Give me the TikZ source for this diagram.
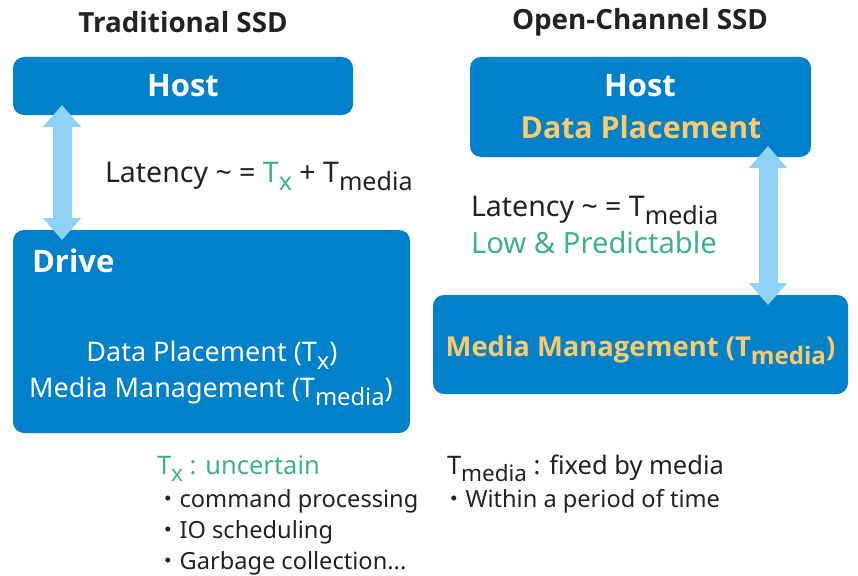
\documentclass[tikz,border=0pt]{standalone}
\usepackage{fontspec}
\setmainfont{Noto Sans}
\newfontfamily\heavy{Open Sans}
\newfontfamily\cjk{Noto Sans CJK JP}
\usetikzlibrary{arrows.meta}

\definecolor{boxblue}{HTML}{0081C9}
\definecolor{arrowblue}{HTML}{8ED3F5}
\definecolor{gold}{HTML}{FCC96B}
\definecolor{teal}{HTML}{3DB08E}
\definecolor{ink}{HTML}{222222}

\newcommand{\lowsub}[1]{\raisebox{-0.3em}{\scalebox{0.88}{#1}}}
\newcommand{\dotitem}{{\cjk ・}}

\begin{document}
\begin{tikzpicture}[
            x = 1pt, y = -1pt, % pixel grid, y down
            > = {Triangle[length=22pt, width=37pt]} % block arrow head
        ]

        \tikzstyle{every node}=[inner sep = 0pt, outer sep = 0pt, text = ink]
        \tikzstyle{box}=[
            fill = boxblue,
            rounded corners = 11pt,
            text = white
        ]
        \tikzstyle{link}=[arrowblue, line width = 19pt, <->]
        \tikzstyle{title}=[font = \fontsize{27.8}{32}\selectfont\heavy\bfseries]
        \tikzstyle{big}=[font = \fontsize{31}{36}\selectfont\heavy\bfseries]
        \tikzstyle{mid}=[font = \fontsize{27.4}{32}\selectfont\heavy\bfseries]
        \tikzstyle{body}=[font = \fontsize{27}{31}\selectfont]
        \tikzstyle{latency}=[font = \fontsize{28.5}{33}\selectfont, anchor = base west]
        \tikzstyle{head}=[font = \fontsize{25.5}{30}\selectfont, anchor = base west]
        \tikzstyle{note}=[font = \fontsize{23.6}{28}\selectfont, anchor = base west]

        \useasboundingbox (0,0) rectangle (858,575);

        % traditional SSD
        \node[title] (tradT) at (183,22) {Traditional SSD};
        \node[box, big, minimum width = 340pt, minimum height = 58pt] (hostL) at (183,86) {Host};
        \node[box, minimum width = 397pt, minimum height = 203pt] (drive) at (211.5,331.5) {};
        \node[big, text = white, anchor = base west] (driveT) at (32,272) {Drive};
        \node[body, text = white, anchor = base] (placeL) at (212,361) {Data Placement (T\lowsub{x})};
        \node[body, text = white, anchor = base] (mediaL) at (211,397) {Media Management (T\lowsub{media})};
        \node[latency] (latL) at (105,182)
            {Latency \textasciitilde{} = \textcolor{teal}{T\lowsub{x}} + T\lowsub{media}};

        \coordinate (la1) at (62,105);
        \coordinate (la2) at (62,240);
        \draw[link] (la1) -- (la2);

        % open-channel SSD
        \node[title] (openT) at (640,22) {Open-Channel SSD};
        \node[box, minimum width = 341pt, minimum height = 100pt] (hostR) at (640.5,107) {};
        \node[big, text = white, anchor = base] (hostRT) at (640,97) {Host};
        \node[big, text = gold, anchor = base, font = \fontsize{30.3}{35}\selectfont\heavy\bfseries] (placeR) at (641,138) {Data Placement};
        \node[box, minimum width = 415pt, minimum height = 99pt] (mediaBox) at (640.5,344.5) {};
        \node[mid, text = gold, anchor = base] (mediaR) at (640.5,356) {Media Management (T\lowsub{media})};
        \node[latency] (latR) at (471,216) {Latency \textasciitilde{} = T\lowsub{media}};
        \node[latency, text = teal, font = \fontsize{29.2}{34}\selectfont] (lowR) at (471,253) {Low \& Predictable};

        \coordinate (ra1) at (768,146);
        \coordinate (ra2) at (768,305);
        \draw[link] (ra1) -- (ra2);

        % notes
        \node[head, text = teal] (txNote) at (157,474) {T\lowsub{x} : uncertain};
        \node[note] (n1) at (156,507) {\dotitem command processing};
        \node[note] (n2) at (156,538) {\dotitem IO scheduling};
        \node[note] (n3) at (156,569) {\dotitem Garbage collection...};
        \node[head] (tmNote) at (447,474) {T\lowsub{media} : fixed by media};
        \node[note] (n4) at (442,507) {\dotitem Within a period of time};

  \end{tikzpicture}
\end{document}
